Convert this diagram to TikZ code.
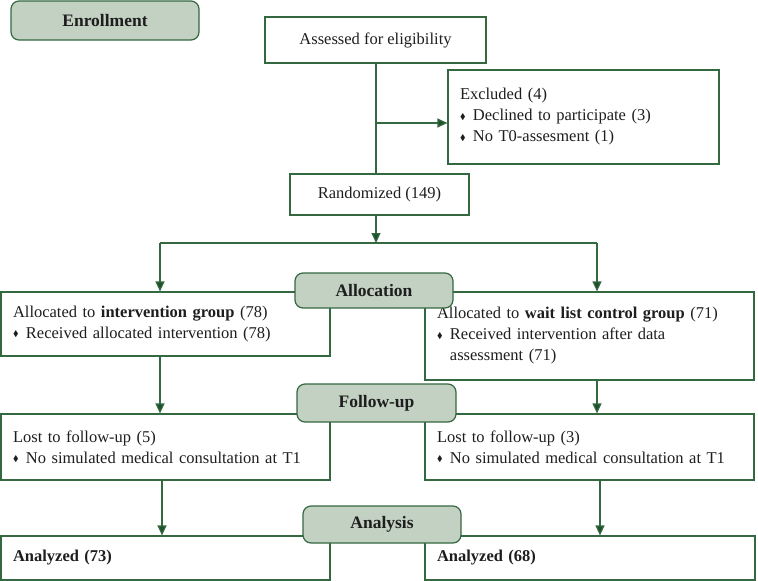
\documentclass[tikz,border=0pt]{standalone}
\usepackage{amssymb}
\usepackage{graphicx}
\usepackage{fontspec}
\setmainfont{Liberation Serif}
\usetikzlibrary{arrows.meta,calc}
\definecolor{lineg}{RGB}{52,104,64}
\definecolor{arrg}{RGB}{28,82,42}
\definecolor{labfill}{RGB}{194,209,194}
\definecolor{txt}{RGB}{30,30,30}
\newcommand{\bul}{\raisebox{0.1em}{\scalebox{0.5}{$\blacklozenge$}}\hspace{0.12em}}
\begin{document}
\begin{tikzpicture}[x=1pt,y=-1pt,
  font=\fontsize{16.5}{21}\selectfont, text=txt,
  box/.style={draw=lineg, line width=1.2pt, fill=white, rectangle, inner sep=0pt},
  cbox/.style={box, align=center},
  lab/.style={draw=lineg, line width=1.2pt, fill=labfill, rounded corners=8pt, inner sep=0pt, font=\fontsize{17.5}{21}\selectfont\bfseries},
  link/.style={draw=lineg, line width=1.2pt},
  arr/.style={link, -{Triangle[length=10pt,width=9pt,fill=arrg]}}]
\useasboundingbox (0,0) rectangle (758,581);

% main boxes
\node[cbox, minimum width=221pt, minimum height=46pt] (assess) at (375.5,40) {Assessed for eligibility};
\node[box, minimum width=271pt, minimum height=94pt, align=left, text width=247pt] (excl) at (583.5,117) {Excluded (4)\\\bul\ Declined to participate (3)\\\bul\ No T0-assesment (1)};
\node[cbox, minimum width=179pt, minimum height=41pt] (rand) at (379.5,194.5) {Randomized (149)};

\node[box, minimum width=329pt, minimum height=64pt, align=left, text width=305pt] (alloc1) at (165.5,324) {Allocated to \textbf{intervention group} (78)\\\bul\ Received allocated intervention (78)};
\node[box, minimum width=329pt, minimum height=88pt, align=left, text width=305pt] (alloc2) at (589.5,336) {Allocated to \textbf{wait list control group} (71)\\\bul\ Received intervention after data\\\hphantom{\bul\ }assessment (71)};

\node[box, minimum width=329pt, minimum height=66pt, align=left, text width=305pt] (lost1) at (165.5,447) {Lost to follow-up (5)\\\bul\ No simulated medical consultation at T1};
\node[box, minimum width=329pt, minimum height=66pt, align=left, text width=305pt] (lost2) at (589.5,447) {Lost to follow-up (3)\\\bul\ No simulated medical consultation at T1};

\node[box, minimum width=329pt, minimum height=44pt, align=left, text width=305pt] (ana1) at (165.5,558) {\textbf{Analyzed (73)}};
\node[box, minimum width=330pt, minimum height=44pt, align=left, text width=306pt] (ana2) at (590,558) {\textbf{Analyzed (68)}};

% connectors
\coordinate (trunk) at (376,0);
\coordinate (exclp) at (376,123);
\coordinate (split) at (376,243);
\coordinate (lsplit) at (160,243);
\coordinate (rsplit) at (597,243);
\coordinate (la) at (162,0);
\coordinate (ra) at (600,0);

\draw[link] (assess.south -| trunk) -- (rand.north -| trunk);
\draw[arr] (exclp) -- (exclp -| excl.west);
\draw[arr] (rand.south -| trunk) -- (split);
\draw[link] (lsplit) -- (rsplit);
\draw[arr] (lsplit) -- (lsplit |- alloc1.north);
\draw[arr] (rsplit) -- (rsplit |- alloc2.north);
\draw[arr] (alloc1.south -| lsplit) -- (lost1.north -| lsplit);
\draw[arr] (alloc2.south -| rsplit) -- (lost2.north -| rsplit);
\draw[arr] (lost1.south -| la) -- (ana1.north -| la);
\draw[arr] (lost2.south -| ra) -- (ana2.north -| ra);

% stage labels
\node[lab, minimum width=188pt, minimum height=39pt] (enr) at (105,20.5) {Enrollment};
\node[lab, minimum width=158pt, minimum height=35pt] (allocl) at (374,290.5) {Allocation};
\node[lab, minimum width=159pt, minimum height=38pt] (fup) at (376.5,403) {Follow-up};
\node[lab, minimum width=158pt, minimum height=37pt] (anal) at (382,524.5) {Analysis};
\end{tikzpicture}
\end{document}
